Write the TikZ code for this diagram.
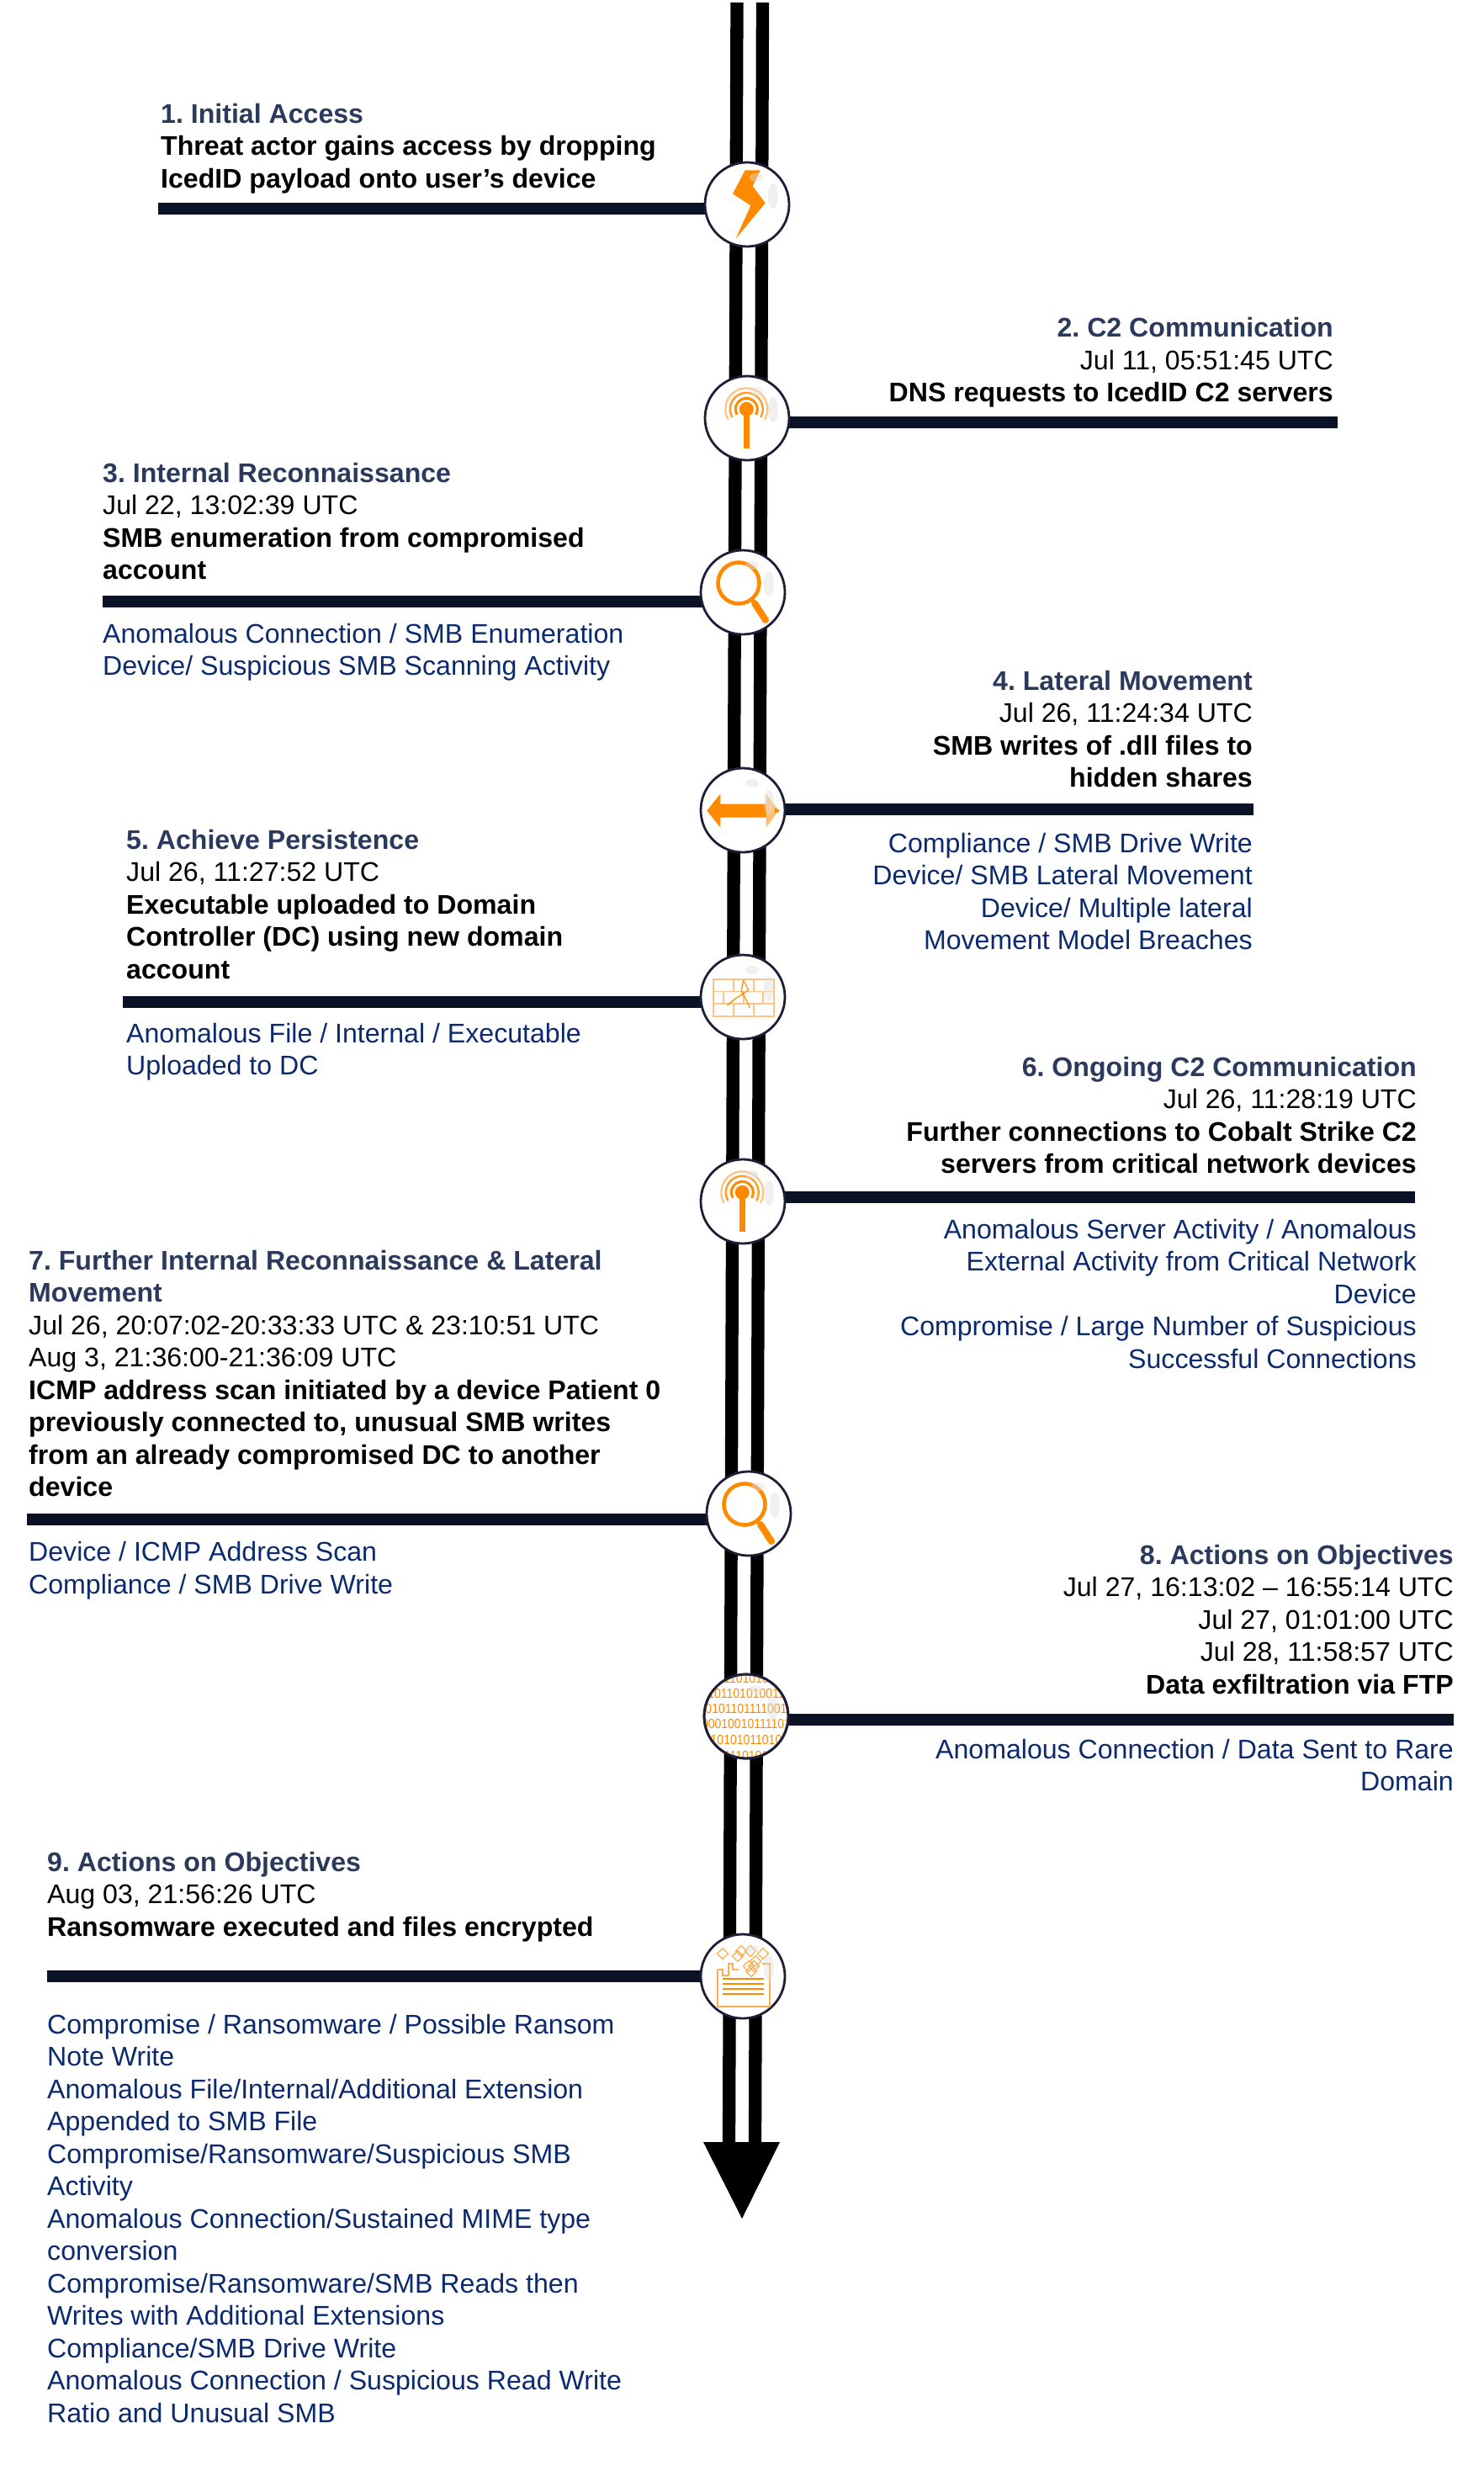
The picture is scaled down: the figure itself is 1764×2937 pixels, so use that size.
\documentclass[tikz,border=0pt]{standalone}
\usepackage{fontspec}
\usepackage{graphicx}
\setmainfont{Liberation Sans}
\usetikzlibrary{backgrounds}
\definecolor{railc}{HTML}{000000}
\definecolor{tickc}{HTML}{0B1226}
\definecolor{ringc}{HTML}{1E1E38}
\definecolor{titlec}{HTML}{2B3A5C}
\definecolor{bluec}{HTML}{0B2A6E}
\definecolor{orc}{HTML}{FF8A00}
\definecolor{orl}{HTML}{FFC285}
\newcommand{\Ti}[1]{{\color{titlec}\bfseries #1}}
\newcommand{\Bo}[1]{{\bfseries #1}}
\newcommand{\St}{\rule{0pt}{28pt}}
\newcommand{\Dg}[1]{\scalebox{.875}[1]{#1}}
\tikzset{
  blockleft/.style={anchor=north west,align=left,inner sep=0pt,font=\fontsize{32.1}{38.5}\selectfont\frenchspacing},
  blockright/.style={anchor=north east,align=right,inner sep=0pt,font=\fontsize{32.1}{38.5}\selectfont\frenchspacing},
  bluetext/.style={text=bluec},
  stage/.style={circle,draw=ringc,line width=2.8pt,fill=white,minimum size=100pt,inner sep=0pt},
  rail/.style={draw=railc,line width=15.3pt},
  tick/.style={draw=tickc,line width=14pt},
  smudge/.style={fill=gray!25,opacity=.45,draw=none},
  thinor/.style={draw=orl,line width=1.3pt},
  bindigits/.style={text=orc,font=\fontsize{16}{16}\selectfont,inner sep=0pt},
}
\newcommand{\smudges}{%
  \fill[smudge] (11,-32) ellipse (8pt and 5pt);
  \fill[smudge] (31,-10) ellipse (6pt and 15pt);
}
\newcommand{\iconbolt}[1]{\begin{scope}[shift={(#1)}]
  \fill[orc] (-2.3,-40.7)--(15.7,-40.7)--(6.7,-21.7)--(21.7,-1.7)--(-13.3,40.7)--(4.3,1.3)--(-17,-12.7)--cycle;
  \smudges
\end{scope}}
\newcommand{\iconantenna}[1]{\begin{scope}[shift={(#1)}]
  \draw[orl,line width=2.2pt] (-0.7,-10.7)++(150:25)  arc (150:390:25);
  \draw[orc!85!white,line width=2.4pt] (-0.7,-10.7)++(150:19.5) arc (150:390:19.5);
  \draw[orc,line width=3pt] (-0.7,-10.7)++(150:13) arc (150:390:13);
  \fill[orc] (-0.7,-10.7) circle (8.5pt);
  \fill[orc] (-4,-10.7) rectangle (3,36);
  \smudges
\end{scope}}
\newcommand{\iconlens}[1]{\begin{scope}[shift={(#1)}]
  \draw[orc,line width=4.6pt] (-5,-11) circle (24.5pt);
  \draw[orc,line width=4pt] (10,8) -- (15,15);
  \draw[orc,line width=8pt,line cap=round] (14,13) -- (27,33);
  \smudges
\end{scope}}
\newcommand{\iconarrow}[1]{\begin{scope}[shift={(#1)}]
  \fill[orc] (-42.7,0.5)--(-26.7,-19.5)--(-26.7,-7.5)--(28,-7.5)--(28,8.5)--(-26.7,8.5)--(-26.7,20.5)--cycle;
  \fill[orc!55!white] (27.7,-19.5)--(40,-3)--(44,0.5)--(40,4)--(27.7,20.5)--cycle;
  \fill[orc] (38,-2.5)--(44,0.5)--(38,3.5)--cycle;
  \smudges
\end{scope}}
\newcommand{\iconwall}[1]{\begin{scope}[shift={(#1)}]
  \draw[thinor] (-35,-21) rectangle (37,23);
  \draw[thinor] (-35,-6.5)--(37,-6.5) (-35,8)--(37,8);
  \draw[thinor] (-11,-21)--(-11,-6.5) (13,-21)--(13,-6.5);
  \draw[thinor] (-23,-6.5)--(-23,8) (1,-6.5)--(1,8) (24,-6.5)--(24,8);
  \draw[thinor] (-11,8)--(-11,23) (13,8)--(13,23);
  \draw[orc,line width=1.3pt] (0.7,-20)--(-1.7,-8.5)--(0,-3.5)--(-8.5,1.5)--(-18.5,10);
  \draw[orc,line width=1.1pt] (0.7,-20)--(6.7,-8.5)--(0,-3.5)--(5,5)--(8.5,13);
  \smudges
\end{scope}}
\newcommand{\iconbinary}[2]{\begin{scope}
  \clip (#2) circle (49pt);
  \node[bindigits] (#1a) at ([yshift=45pt]#2) {\Dg{1101010}};
  \node[bindigits] (#1b) at ([yshift=27pt]#2) {\Dg{101101010011}};
  \node[bindigits] (#1c) at ([yshift=9pt]#2) {\Dg{0101101111001}};
  \node[bindigits] (#1d) at ([yshift=-9pt]#2) {\Dg{00010010111101}};
  \node[bindigits] (#1e) at ([yshift=-28pt]#2) {\Dg{0101010110101}};
  \node[bindigits] (#1f) at ([yshift=-47pt]#2) {\Dg{1110101}};
  \begin{scope}[shift={(#2)}]\smudges\end{scope}
\end{scope}}
\newcommand{\dmd}[2]{\draw[orc!70!white,line width=1.2pt,rotate around={45:(#1,#2)}] (#1-4.6,#2-4.6) rectangle (#1+4.6,#2+4.6);}
\newcommand{\iconransom}[1]{\begin{scope}[shift={(#1)}]
  \draw[orc!70!white,line width=1.2pt] (-30,-8)--(-24,-8)--(-24,-1)--(-17,-1)--(-17,-15)--(-12,-15)--(-12,-8)--(-5,-8);
  \draw[orc!70!white,line width=1.2pt] (-30,-8)--(-30,36)--(32,36)--(32,-15)--(23,-15);
  \foreach \yy in {3,9,15,21} {\draw[orc,line width=2.4pt] (-24,\yy)--(25,\yy);}
  \dmd{-24}{-27}\dmd{-6}{-24}\dmd{-2}{-30}\dmd{9}{-30}\dmd{24}{-27}\dmd{7}{-12}\dmd{13}{-12}\dmd{15}{-18}\dmd{10}{-6}
  \smudges
\end{scope}}
\pagestyle{empty}
\begin{document}
\begin{tikzpicture}[x=1pt,y=-1pt]
\useasboundingbox (0,0) rectangle (1764,2937);
% stage circles
\node[stage] (c1) at (888,243) {};
\node[stage] (c2) at (888,497) {};
\node[stage] (c3) at (883,704) {};
\node[stage] (c4) at (883,963) {};
\node[stage] (c5) at (883,1185) {};
\node[stage] (c6) at (883,1428) {};
\node[stage] (c7) at (890,1799) {};
\node[stage] (c8) at (887,2040) {};
\node[stage] (c9) at (883,2349) {};
% rails and arrow head
\coordinate (ra) at (876,3);
\coordinate (rb) at (866.5,2548);
\coordinate (sa) at (906.5,3);
\coordinate (sb) at (897.5,2548);
\coordinate (hl) at (836,2546);
\coordinate (hr) at (927,2546);
\coordinate (ht) at (882,2637);
% tick ends
\coordinate (l1) at (188,247.6);
\coordinate (l2) at (1590,502);
\coordinate (l3) at (122,715);
\coordinate (l4) at (1490,962);
\coordinate (l5) at (146,1191);
\coordinate (l6) at (1682,1423);
\coordinate (l7) at (32,1806);
\coordinate (l8) at (1728,2044);
\coordinate (l9) at (56,2349);
\begin{pgfonlayer}{background}
  \draw[rail] (ra) -- (rb);
  \draw[rail] (sa) -- (sb);
  \fill[railc] (hl) -- (hr) -- (ht) -- cycle;
  \draw[tick] (l1) -- (l1 -| c1);
  \draw[tick] (l2) -- (l2 -| c2);
  \draw[tick] (l3) -- (l3 -| c3);
  \draw[tick] (l4) -- (l4 -| c4);
  \draw[tick] (l5) -- (l5 -| c5);
  \draw[tick] (l6) -- (l6 -| c6);
  \draw[tick] (l7) -- (l7 -| c7);
  \draw[tick] (l8) -- (l8 -| c8);
  \draw[tick] (l9) -- (l9 -| c9);
\end{pgfonlayer}
% icons
\iconbolt{c1}
\iconantenna{c2}
\iconlens{c3}
\iconarrow{c4}
\iconwall{c5}
\iconantenna{c6}
\iconlens{c7}
\iconbinary{bin}{c8}
\iconransom{c9}
\node[circle,draw=ringc,line width=2.8pt,minimum size=100pt,inner sep=0pt] (c8r) at (c8) {};
% texts
\node[blockleft] (t1) at (191,118) {\St\Ti{1. Initial Access}\\\Bo{Threat actor gains access by dropping}\\\Bo{IcedID payload onto user’s device}};
\node[blockright] (t2) at (1585,372.5) {\St\Ti{2. C2 Communication}\\Jul 11, 05:51:45 UTC\\\Bo{DNS requests to IcedID C2 servers}};
\node[blockleft] (t3) at (122,545) {\St\Ti{3. Internal Reconnaissance}\\Jul 22, 13:02:39 UTC\\\Bo{SMB enumeration from compromised}\\\Bo{account}};
\node[blockleft,bluetext] (b3) at (122,736) {\St Anomalous Connection / SMB Enumeration\\Device/ Suspicious SMB Scanning Activity};
\node[blockright] (t4) at (1489,792) {\St\Ti{4. Lateral Movement}\\Jul 26, 11:24:34 UTC\\\Bo{SMB writes of .dll files to}\\\Bo{hidden shares}};
\node[blockright,bluetext] (b4) at (1489,985) {\St Compliance / SMB Drive Write\\Device/ SMB Lateral Movement\\Device/ Multiple lateral\\Movement Model Breaches};
\node[blockleft] (t5) at (150,981) {\St\Ti{5. Achieve Persistence}\\Jul 26, 11:27:52 UTC\\\Bo{Executable uploaded to Domain}\\\Bo{Controller (DC) using new domain}\\\Bo{account}};
\node[blockleft,bluetext] (b5) at (150,1211) {\St Anomalous File / Internal / Executable\\Uploaded to DC};
\node[blockright] (t6) at (1684,1251) {\St\Ti{6. Ongoing C2 Communication}\\Jul 26, 11:28:19 UTC\\\Bo{Further connections to Cobalt Strike C2}\\\Bo{servers from critical network devices}};
\node[blockright,bluetext] (b6) at (1684,1444) {\St Anomalous Server Activity / Anomalous\\External Activity from Critical Network\\Device\\Compromise / Large Number of Suspicious\\Successful Connections};
\node[blockleft] (t7) at (34,1481) {\St\Ti{7. Further Internal Reconnaissance \& Lateral}\\\Ti{Movement}\\Jul 26, 20:07:02-20:33:33 UTC \& 23:10:51 UTC\\Aug 3, 21:36:00-21:36:09 UTC\\\Bo{ICMP address scan initiated by a device Patient 0}\\\Bo{previously connected to, unusual SMB writes}\\\Bo{from an already compromised DC to another}\\\Bo{device}};
\node[blockleft,bluetext] (b7) at (34,1827.5) {\St Device / ICMP Address Scan\\Compliance / SMB Drive Write};
\node[blockright] (t8) at (1728,1831) {\St\Ti{8. Actions on Objectives}\\Jul 27, 16:13:02 – 16:55:14 UTC\\Jul 27, 01:01:00 UTC\\Jul 28, 11:58:57 UTC\\\Bo{Data exfiltration via FTP}};
\node[blockright,bluetext] (b8) at (1728,2062) {\St Anomalous Connection / Data Sent to Rare\\Domain};
\node[blockleft] (t9) at (56,2196) {\St\Ti{9. Actions on Objectives}\\Aug 03, 21:56:26 UTC\\\Bo{Ransomware executed and files encrypted}};
\node[blockleft,bluetext] (b9) at (56,2389) {\St Compromise / Ransomware / Possible Ransom\\Note Write\\Anomalous File/Internal/Additional Extension\\Appended to SMB File\\Compromise/Ransomware/Suspicious SMB\\Activity\\Anomalous Connection/Sustained MIME type\\conversion\\Compromise/Ransomware/SMB Reads then\\Writes with Additional Extensions\\Compliance/SMB Drive Write\\Anomalous Connection / Suspicious Read Write\\Ratio and Unusual SMB};
\end{tikzpicture}
\end{document}
